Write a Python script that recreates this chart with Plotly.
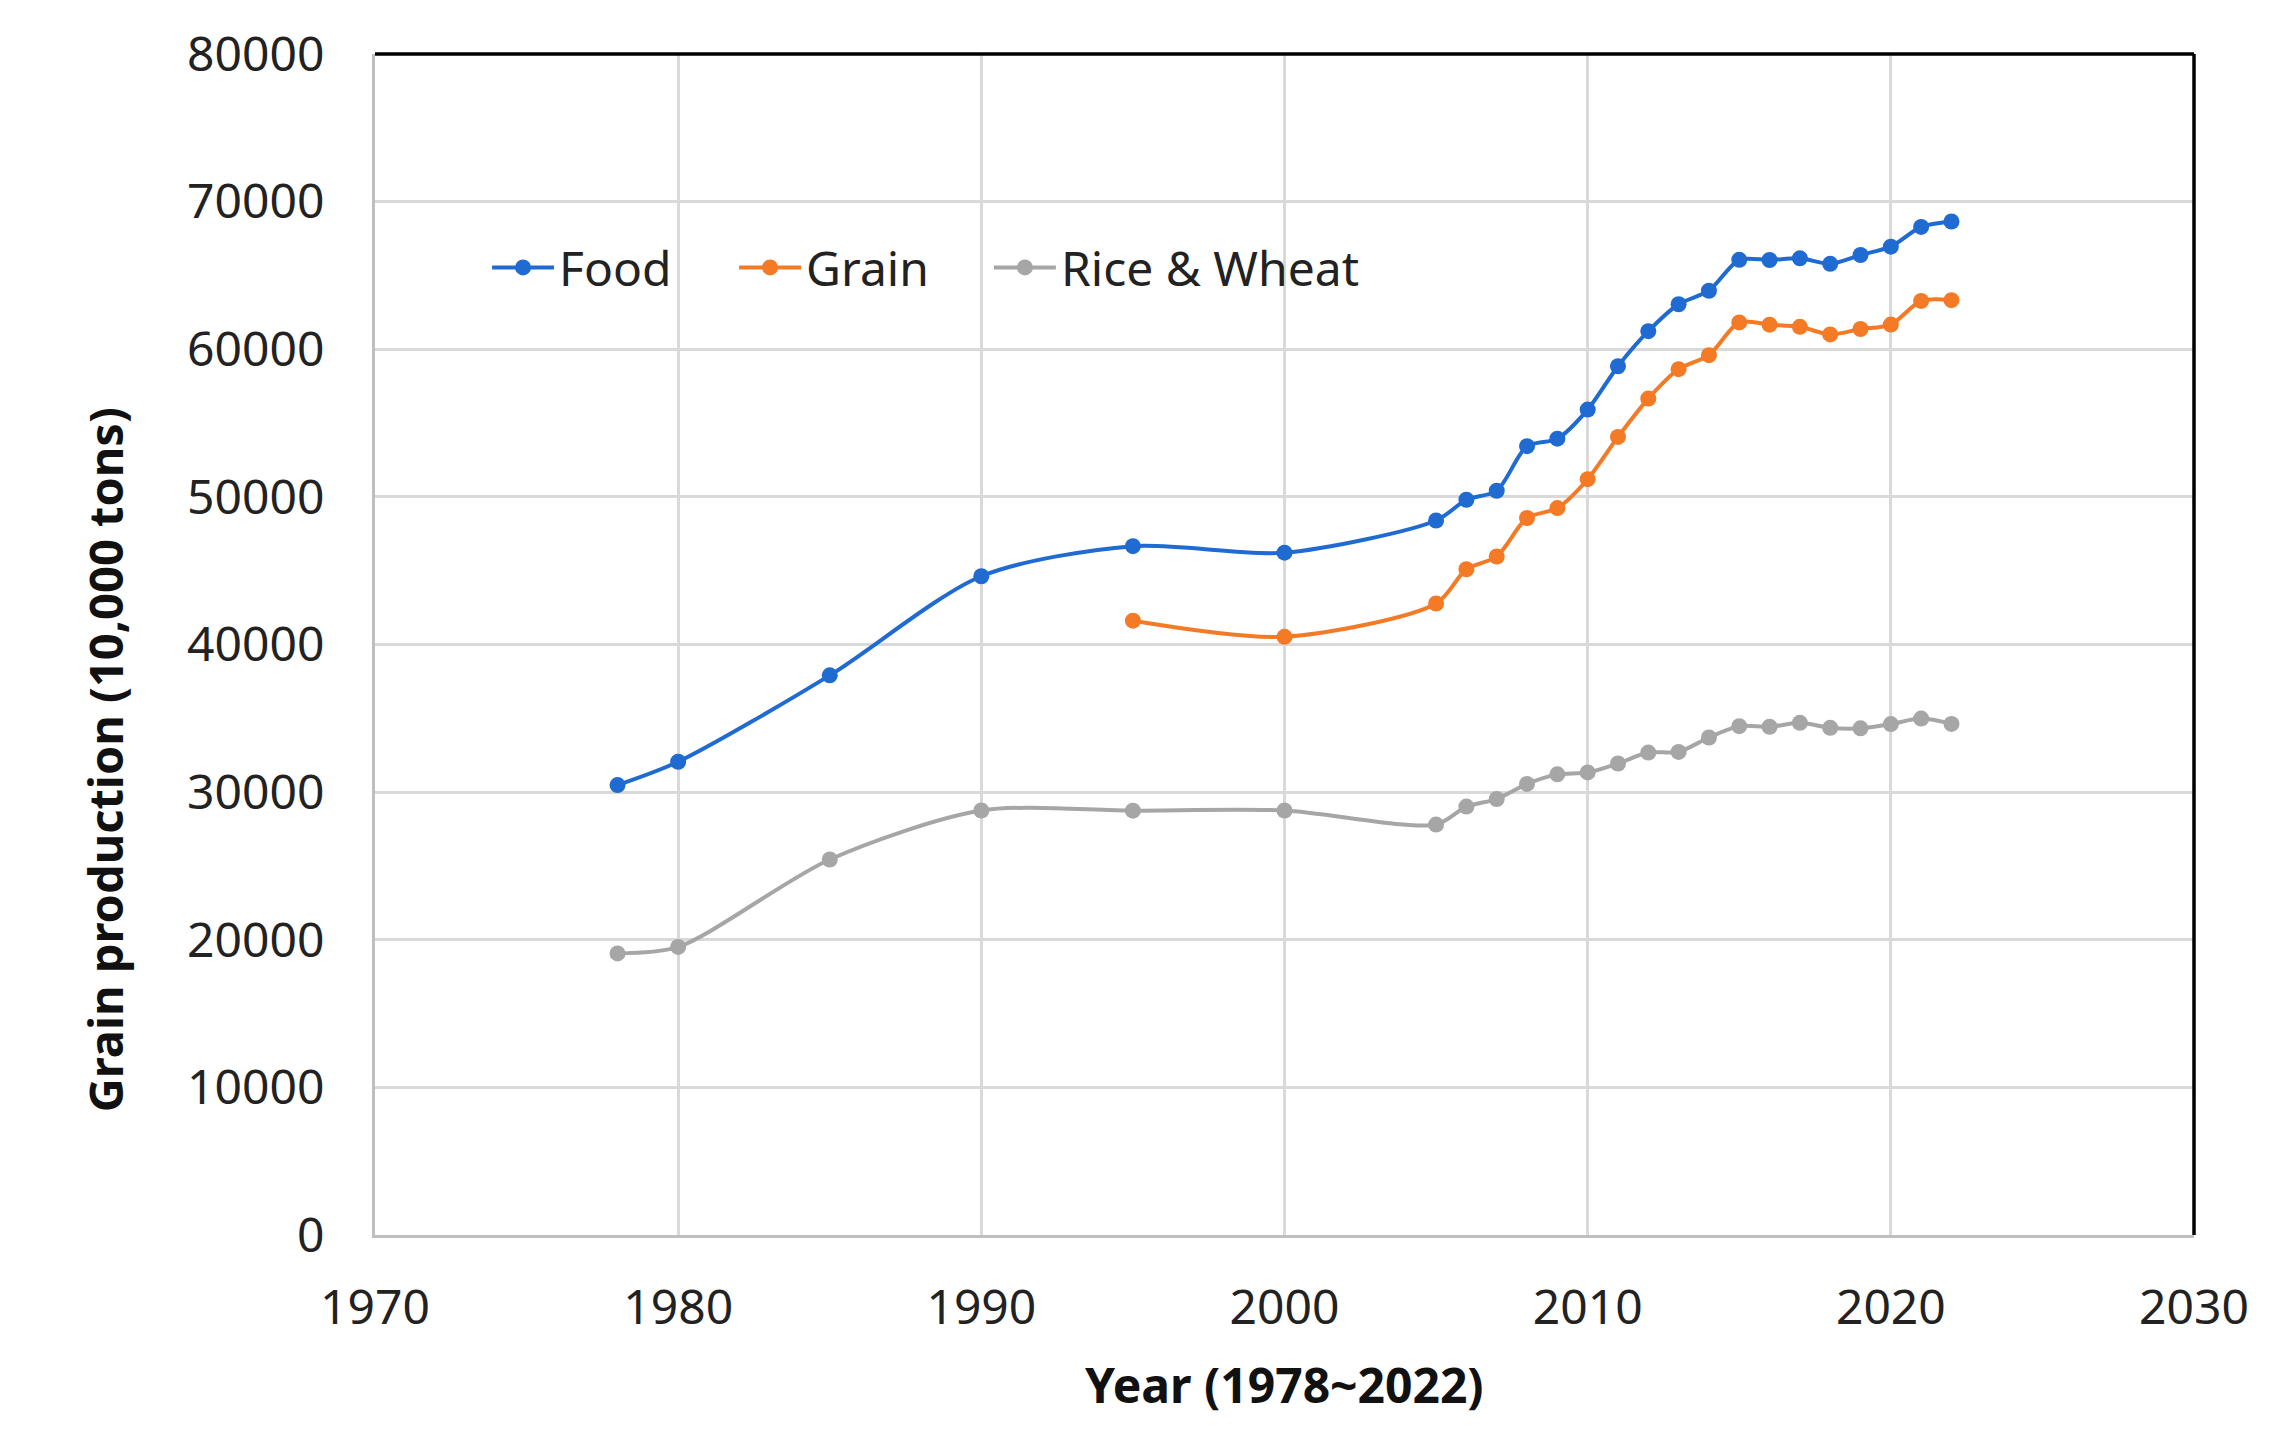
import plotly.graph_objects as go

# ---- data ----
years_food = [1978, 1980, 1985, 1990, 1995, 2000, 2005, 2006, 2007, 2008, 2009, 2010,
              2011, 2012, 2013, 2014, 2015, 2016, 2017, 2018, 2019, 2020, 2021, 2022]
food = [30477, 32056, 37911, 44624, 46662, 46218, 48402, 49804, 50414, 53434, 53941, 55911,
        58849, 61223, 63048, 63965, 66060, 66044, 66161, 65789, 66384, 66949, 68285, 68653]

years_grain = [1995, 2000, 2005, 2006, 2007, 2008, 2009, 2010, 2011, 2012, 2013, 2014,
               2015, 2016, 2017, 2018, 2019, 2020, 2021, 2022]
grain = [41612, 40522, 42776, 45099, 45963, 48569, 49243, 51197, 54062, 56659, 58650, 59602,
         61818, 61667, 61521, 61004, 61370, 61674, 63276, 63324]

years_rw = years_food
rice_wheat = [19077, 19512, 25438, 28756, 28744, 28755, 27804, 29019, 29533, 30554, 31203, 31332,
              31940, 32678, 32725, 33700, 34470, 34427, 34692, 34357, 34321, 34611, 34979, 34622]

series_names = ["Food", "Grain", "Rice & Wheat"]
colors = ["#1f6bd2", "#f57a26", "#a6a6a6"]

x_ticks = [1970, 1980, 1990, 2000, 2010, 2020, 2030]
y_ticks = [0, 10000, 20000, 30000, 40000, 50000, 60000, 70000, 80000]

FONT = "Noto Sans"
legend_ids = ["legend", "legend2", "legend3"]
legend_x = [0.0616, 0.1974, 0.3375]
legend_y = 0.819

fig = go.Figure()
for i, (xs, ys) in enumerate([(years_food, food), (years_grain, grain), (years_rw, rice_wheat)]):
    fig.add_trace(go.Scatter(
        x=xs, y=ys, name=series_names[i], mode="lines+markers",
        line=dict(color=colors[i], width=4, shape="spline", smoothing=0.8),
        marker=dict(color=colors[i], size=16),
        legend=legend_ids[i],
    ))

legend_common = dict(orientation="h", xanchor="left", yanchor="middle",
                     bgcolor="rgba(0,0,0,0)", borderwidth=0,
                     font=dict(family=FONT, size=48, color="#222222"),
                     itemwidth=62)

fig.update_layout(
    width=2288, height=1447,
    margin=dict(l=367, r=102, t=43, b=220),
    paper_bgcolor="white", plot_bgcolor="white",
    font=dict(family=FONT, size=48, color="#222222"),
    showlegend=True,
    legend=dict(x=legend_x[0], y=legend_y, **legend_common),
    legend2=dict(x=legend_x[1], y=legend_y, **legend_common),
    legend3=dict(x=legend_x[2], y=legend_y, **legend_common),
)

fig.update_xaxes(
    range=[1970, 2030], tickvals=x_ticks, ticktext=[str(v) for v in x_ticks],
    showgrid=True, gridcolor="#d9d9d9", gridwidth=2.5,
    showline=True, linecolor="#bfbfbf", linewidth=3,
    zeroline=False, ticks="", ticklabelstandoff=28,
    tickfont=dict(family=FONT, size=48, color="#222222"),
)
fig.update_yaxes(
    range=[0, 80000], tickvals=y_ticks, ticktext=[str(v) for v in y_ticks],
    showgrid=True, gridcolor="#d9d9d9", gridwidth=2.5,
    showline=True, linecolor="#bfbfbf", linewidth=3,
    zeroline=False, ticks="", ticklabelstandoff=38,
    tickfont=dict(family=FONT, size=48, color="#222222"),
)

# top and right frame edges are black in the reference
fig.add_shape(type="line", xref="paper", yref="paper", x0=0, x1=1, y0=1, y1=1,
              line=dict(color="black", width=3.5))
fig.add_shape(type="line", xref="paper", yref="paper", x0=1, x1=1, y0=0, y1=1,
              line=dict(color="black", width=3.5))

# axis titles
fig.add_annotation(text="<b>Year (1978~2022)</b>", xref="paper", yref="paper",
                   x=0.5, y=-0.127, xanchor="center", yanchor="middle", showarrow=False,
                   font=dict(family=FONT, size=48, color="#111111"))
fig.add_annotation(text="<b>Grain production (10,000 tons)</b>", xref="paper", yref="paper",
                   x=-0.1484, y=0.402, xanchor="center", yanchor="middle", showarrow=False,
                   textangle=-90, font=dict(family=FONT, size=47, color="#111111"))

fig.write_html("out.html")
